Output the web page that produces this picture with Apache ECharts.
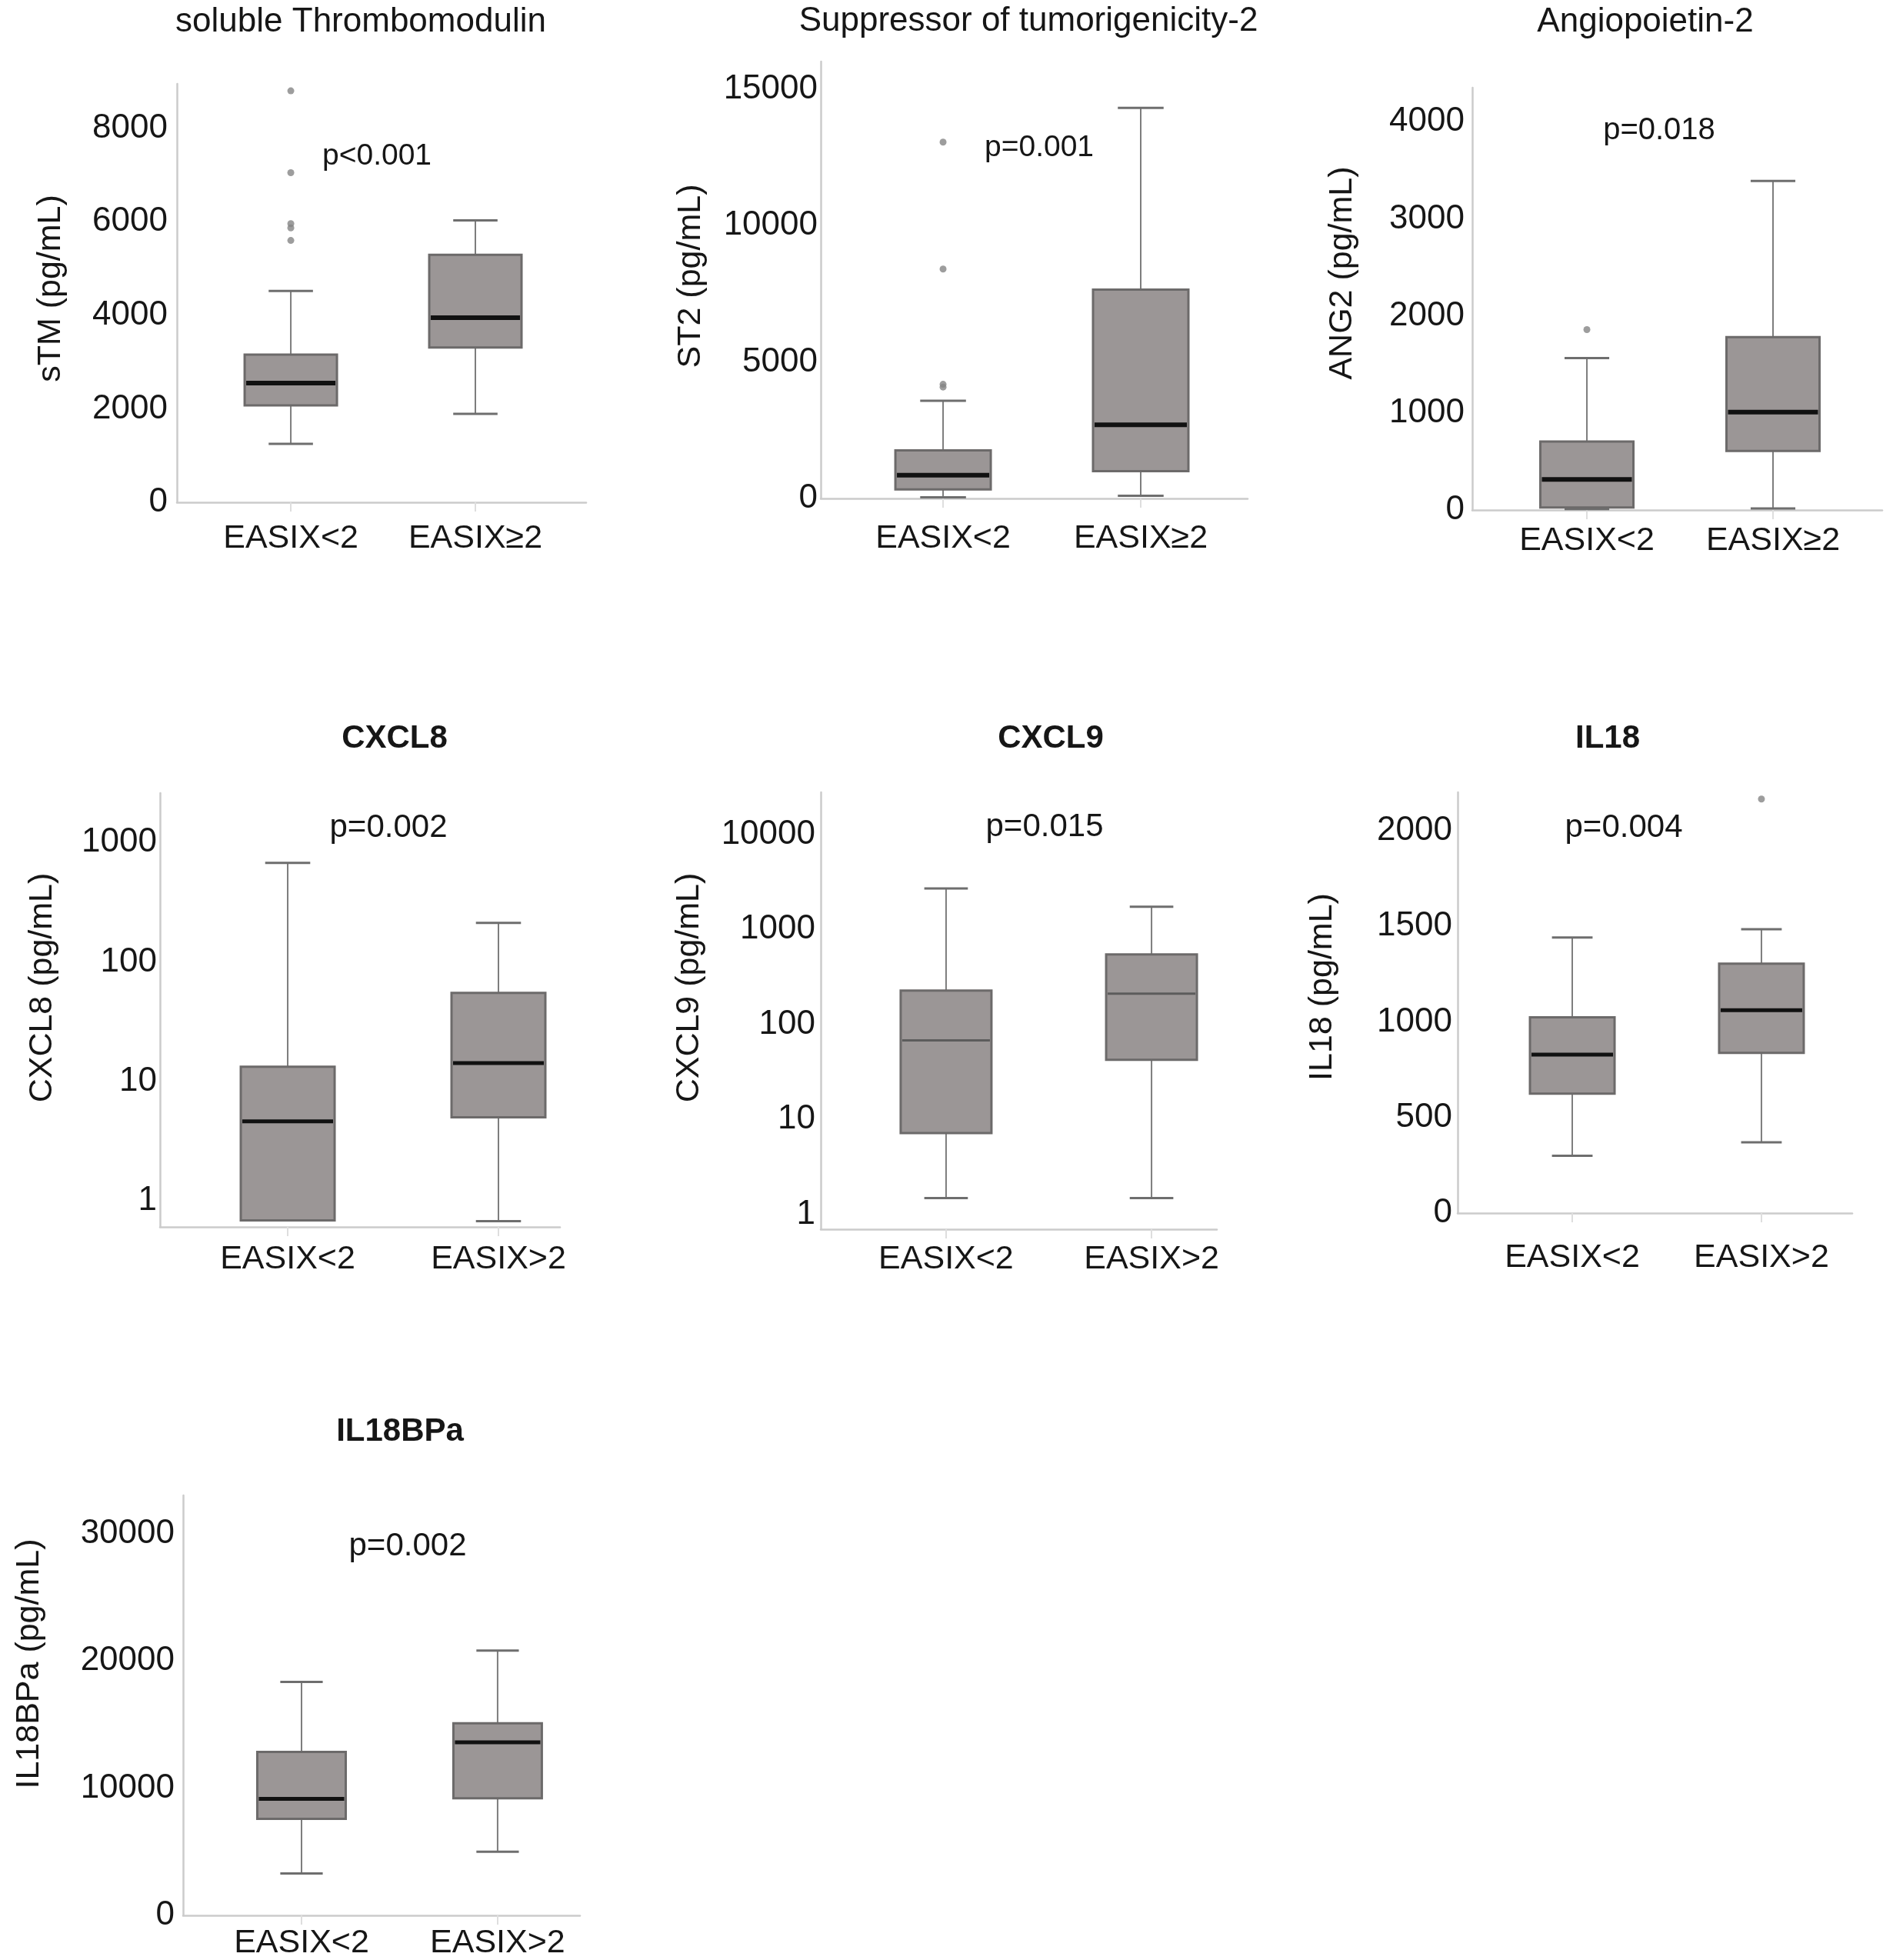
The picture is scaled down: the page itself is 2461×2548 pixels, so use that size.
<!DOCTYPE html>
<html><head><meta charset="utf-8">
<script src="https://cdn.jsdelivr.net/npm/echarts@6/dist/echarts.min.js"></script>
<style>html,body{margin:0;padding:0;background:#fff}#c{width:2461px;height:2548px}</style>
</head><body><div id="c"></div>
<script>
// ---------- data ----------
const catsGE = ['EASIX<2', 'EASIX\u22652'];
const catsGT = ['EASIX<2', 'EASIX>2'];

const titles = ['soluble Thrombomodulin', 'Suppressor of tumorigenicity-2', 'Angiopoietin-2', 'CXCL8', 'CXCL9', 'IL18', 'IL18BPa'];
const pValues = ['p<0.001', 'p=0.001', 'p=0.018', 'p=0.002', 'p=0.015', 'p=0.004', 'p=0.002'];
const yNames = ['sTM (pg/mL)', 'ST2 (pg/mL)', 'ANG2 (pg/mL)', 'CXCL8 (pg/mL)', 'CXCL9 (pg/mL)', 'IL18 (pg/mL)', 'IL18BPa (pg/mL)'];

// box statistics per group: [min, Q1, median, Q3, max]
const stmBox = [[1250, 2075, 2550, 3160, 4520], [1890, 3310, 3950, 5295, 6030]];
const st2Box = [[45, 330, 850, 1760, 3580], [100, 1000, 2700, 7650, 14300]];
const ang2Box = [[10, 25, 315, 705, 1565], [15, 608, 1008, 1780, 3390]];
const cxcl8Box = [[0.68, 0.68, 4.6, 13.2, 676], [0.67, 4.97, 14.2, 55, 212]];
const cxcl9Box = [[1.49, 7.2, 68, 227, 2700], [1.49, 42.5, 211, 545, 1730]];
const il18Box = [[300, 624, 829, 1024, 1441], [370, 838, 1061, 1304, 1484]];
const il18bpaBox = [[3300, 7580, 9150, 12850, 18350], [5000, 9200, 13600, 15100, 20800]];

// outliers: [group index, value]
const stmOut = [[0, 8800], [0, 7050], [0, 5960], [0, 5870], [0, 5600]];
const st2Out = [[0, 13050], [0, 8400], [0, 4180], [0, 4080]];
const ang2Out = [[0, 1858]];
const cxcl8Out = [];
const cxcl9Out = [];
const il18Out = [[1, 2165]];
const il18bpaOut = [];

// y-axis ranges and tick steps
const yTypes = ['value', 'value', 'value', 'log', 'log', 'value', 'value'];
const yMins = [0, 0, 0, 0.6, 0.7, 0, 0];
const yMaxs = [8950, 16000, 4350, 2600, 27700, 2200, 33000];
const yIntervals = [2000, 5000, 1000, null, null, 500, 10000];

// ---------- layout / style ----------
const FONT = '"Liberation Sans", Arial, Helvetica, sans-serif';
const TXT = '#161616';
const panels = [
  {box: stmBox, out: stmOut, cats: catsGE, grid: [230, 109, 532, 544], xr: [-0.617, 1.6], boxW: 120, ym: 12, xm: 26,
   title: [469, 29, 'normal', 44], p: [490, 203, 39], yn: [66, 375], med: ['#111', 6]},
  {box: st2Box, out: st2Out, cats: catsGE, grid: [1067, 80, 555, 568], xr: [-0.619, 1.541], boxW: 124, ym: 4, xm: 31,
   title: [1337, 28, 'normal', 44], p: [1351, 192, 39], yn: [898, 359], med: ['#111', 6]},
  {box: ang2Box, out: ang2Out, cats: catsGE, grid: [1914, 114, 533, 549], xr: [-0.616, 1.587], boxW: 121, ym: 10, xm: 19,
   title: [2139, 29, 'normal', 44], p: [2157, 170, 40], yn: [1745, 355], med: ['#111', 6]},
  {box: cxcl8Box, out: cxcl8Out, cats: catsGT, grid: [208, 1031, 520, 564], xr: [-0.606, 1.292], boxW: 122, ym: 4, xm: 21,
   title: [513, 960, 'bold', 42], p: [505, 1076, 42], yn: [55, 1284], med: ['#111', 5]},
  {box: cxcl9Box, out: cxcl9Out, cats: catsGT, grid: [1067, 1030, 515, 568], xr: [-0.61, 1.318], boxW: 118, ym: 7, xm: 18,
   title: [1366, 960, 'bold', 42], p: [1358, 1075, 42], yn: [896, 1284], med: ['#5c5c5c', 3]},
  {box: il18Box, out: il18Out, cats: catsGT, grid: [1895, 1030, 513, 547], xr: [-0.606, 1.48], boxW: 110, ym: 7, xm: 37,
   title: [2090, 960, 'bold', 42], p: [2111, 1076, 42], yn: [1719, 1283], med: ['#111', 5]},
  {box: il18bpaBox, out: il18bpaOut, cats: catsGT, grid: [238, 1944, 516, 546], xr: [-0.604, 1.42], boxW: 115, ym: 11, xm: 15,
   title: [520, 1861, 'bold', 42], p: [530, 2010, 42], yn: [38, 2163], med: ['#111', 5]}
];

function makeRender(cfg) {
  return function (params, api) {
    const xi = api.value(0);
    const ys = [1, 2, 3, 4, 5].map(k => api.coord([xi, api.value(k)])[1]);
    const cx = api.coord([xi, api.value(3)])[0];
    const hw = cfg.boxW / 2, cw = cfg.boxW * 0.24;
    const [yLo, yQ1, yMed, yQ3, yHi] = ys;
    const wl = {stroke: '#7d7d7d', lineWidth: 2};
    const cl = {stroke: '#6e6e6e', lineWidth: 3};
    return {type: 'group', children: [
      {type: 'line', shape: {x1: cx, y1: yHi, x2: cx, y2: yQ3}, style: wl},
      {type: 'line', shape: {x1: cx, y1: yQ1, x2: cx, y2: yLo}, style: wl},
      {type: 'line', shape: {x1: cx - cw, y1: yHi, x2: cx + cw, y2: yHi}, style: cl},
      {type: 'line', shape: {x1: cx - cw, y1: yLo, x2: cx + cw, y2: yLo}, style: cl},
      {type: 'rect', shape: {x: cx - hw, y: yQ3, width: 2 * hw, height: yQ1 - yQ3},
        style: {fill: '#9b9696', stroke: '#6c6a6a', lineWidth: 3}},
      {type: 'line', shape: {x1: cx - hw + 2, y1: yMed, x2: cx + hw - 2, y2: yMed},
        style: {stroke: cfg.med[0], lineWidth: cfg.med[1]}}
    ]};
  };
}

const grids = [], xAxes = [], yAxes = [], series = [], graphics = [];
panels.forEach((cfg, i) => {
  grids.push({left: cfg.grid[0], top: cfg.grid[1], width: cfg.grid[2], height: cfg.grid[3],
    containLabel: false, outerBoundsMode: 'none'});
  xAxes.push({
    type: 'value', gridIndex: i, min: cfg.xr[0], max: cfg.xr[1],
    axisLine: {show: true, onZero: false, lineStyle: {color: '#cbcbcb', width: 2.5}},
    axisTick: {show: true, customValues: [0, 1], length: 12, lineStyle: {color: '#dedede', width: 2}},
    axisLabel: {customValues: [0, 1], formatter: v => cfg.cats[Math.round(v)] || '',
      fontSize: 43, fontFamily: FONT, color: TXT, margin: cfg.xm, showMinLabel: true, showMaxLabel: true},
    splitLine: {show: false}
  });
  const isLog = yTypes[i] === 'log';
  const iv = yIntervals[i];
  const yAx = {
    type: yTypes[i], gridIndex: i, min: yMins[i], max: yMaxs[i],
    axisLine: {show: true, onZero: false, lineStyle: {color: '#cbcbcb', width: 2.5}},
    axisTick: {show: false}, splitLine: {show: false},
    axisLabel: {fontSize: 44, fontFamily: FONT, color: TXT, margin: cfg.ym,
      formatter: isLog
        ? (v => { const l = Math.log10(v); return Math.abs(l - Math.round(l)) < 1e-6 ? String(Math.round(v)) : ''; })
        : (v => (Math.abs(v / iv - Math.round(v / iv)) < 1e-6 ? String(Math.round(v)) : ''))}
  };
  if (isLog) yAx.logBase = 10; else yAx.interval = iv;
  yAxes.push(yAx);
  series.push({
    type: 'custom', xAxisIndex: i, yAxisIndex: i, clip: false,
    data: cfg.box.map((b, k) => [k].concat(b)),
    encode: {x: 0, y: [1, 2, 3, 4, 5]},
    renderItem: makeRender(cfg)
  });
  if (cfg.out.length) {
    series.push({type: 'scatter', xAxisIndex: i, yAxisIndex: i, data: cfg.out,
      symbol: 'circle', symbolSize: 9, itemStyle: {color: '#858585'}});
  }
  graphics.push({type: 'text', x: cfg.title[0], y: cfg.title[1],
    style: {text: titles[i], fontSize: cfg.title[3], fontWeight: cfg.title[2], fontFamily: FONT, fill: TXT, align: 'center', verticalAlign: 'middle'}});
  graphics.push({type: 'text', x: cfg.p[0], y: cfg.p[1],
    style: {text: pValues[i], fontSize: cfg.p[2], fontFamily: FONT, fill: TXT, align: 'center', verticalAlign: 'middle'}});
  graphics.push({type: 'text', x: cfg.yn[0], y: cfg.yn[1], rotation: Math.PI / 2,
    style: {text: yNames[i], fontSize: 43, fontFamily: FONT, fill: TXT, align: 'center', verticalAlign: 'middle'}});
});

const chart = echarts.init(document.getElementById('c'), null, {renderer: 'canvas'});
chart.setOption({
  animation: false,
  backgroundColor: '#ffffff',
  grid: grids, xAxis: xAxes, yAxis: yAxes, series: series, graphic: graphics
});
</script>
</body></html>
